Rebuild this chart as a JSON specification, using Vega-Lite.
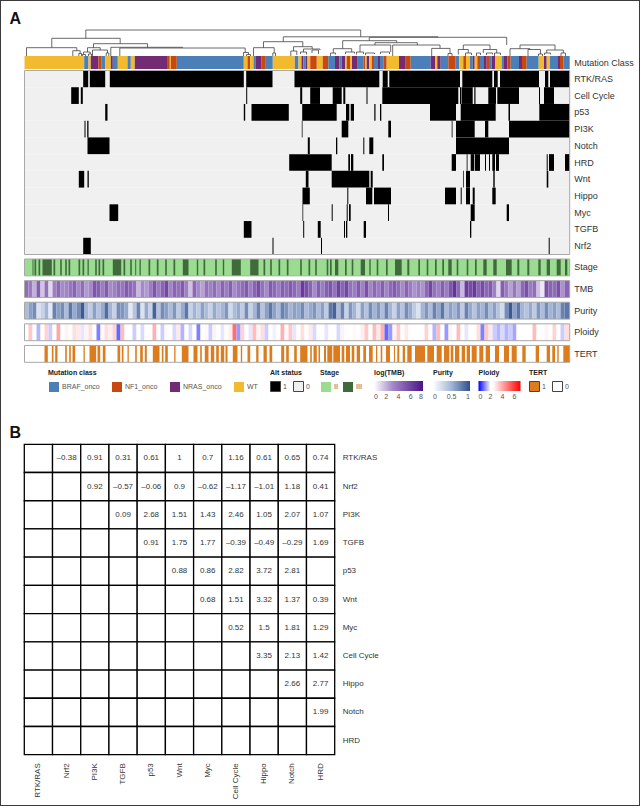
{"$schema":"https://vega.github.io/schema/vega-lite/v6.json","autosize":{"type":"none"},"padding":0,"width":640,"height":806,"background":"white","config":{"view":{"stroke":null},"font":"Liberation Sans","legend":{"titleFont":"Liberation Sans","labelFont":"Liberation Sans","titleFontSize":7,"titleFontWeight":"bold","titleColor":"#222","labelFontSize":7,"labelColor":"#555"}},
"datasets":{
"page":[{"a":0,"b":1,"u":0,"v":1}],
"dend":[{"l":61.3,"r":336.2,"h":26,"a":17.7,"b":19.2},{"l":27.3,"r":95.7,"h":17.7,"a":8.3,"b":12.3},{"l":2,"r":52.3,"h":8.3,"a":0,"b":5.3},{"l":48.3,"r":55.7,"h":5.3,"a":0,"b":2.5},{"l":54.3,"r":57,"h":2.5,"a":0,"b":0},{"l":69,"r":123,"h":12.3,"a":8.3,"b":8.7},{"l":63,"r":75.7,"h":8.3,"a":4,"b":6},{"l":59,"r":65.7,"h":4,"a":1.5,"b":2},{"l":58,"r":61,"h":1.5,"a":0,"b":0},{"l":64,"r":67,"h":2,"a":0,"b":0},{"l":68,"r":83,"h":6,"a":0,"b":3},{"l":81.7,"r":84.3,"h":3,"a":0,"b":0},{"l":86.3,"r":158,"h":8.7,"a":0,"b":8},{"l":95.3,"r":220.7,"h":8,"a":0,"b":3.5},{"l":219,"r":224,"h":3.5,"a":0,"b":1.5},{"l":222,"r":226,"h":1.5,"a":0,"b":0},{"l":258.8,"r":413.5,"h":19.2,"a":14.3,"b":18.7},{"l":344.8,"r":482.2,"h":18.7,"a":15.3,"b":11},{"l":239,"r":278.3,"h":14.3,"a":8.3,"b":9.3},{"l":229,"r":249.7,"h":8.3,"a":0,"b":3},{"l":248.3,"r":251,"h":3,"a":0,"b":0},{"l":269,"r":287.7,"h":9.3,"a":5,"b":7},{"l":266.3,"r":272.3,"h":5,"a":0,"b":1},{"l":279,"r":295.5,"h":7,"a":4,"b":6},{"l":276,"r":282,"h":4,"a":2,"b":1.5},{"l":287.5,"r":294,"h":6,"a":3,"b":2},{"l":318.2,"r":372.2,"h":15.3,"a":7.3,"b":13.3},{"l":308.8,"r":327.2,"h":7.3,"a":3,"b":4},{"l":306,"r":311,"h":3,"a":0,"b":1.5},{"l":321,"r":330,"h":4,"a":2,"b":2.5},{"l":350.5,"r":392.8,"h":13.3,"a":11,"b":11},{"l":335.5,"r":366.2,"h":11,"a":4,"b":4},{"l":332,"r":339,"h":4,"a":1.5,"b":2},{"l":341,"r":350,"h":3,"a":1,"b":2},{"l":356,"r":365,"h":4,"a":2,"b":2},{"l":368.2,"r":415.5,"h":11,"a":0,"b":7.6},{"l":407.2,"r":425.5,"h":7.6,"a":0,"b":2.5},{"l":423.5,"r":427.5,"h":2.5,"a":0,"b":0},{"l":438.8,"r":465.5,"h":11,"a":6.5,"b":6.5},{"l":433.8,"r":443.8,"h":6.5,"a":1.5,"b":3},{"l":441,"r":447,"h":3,"a":0,"b":1},{"l":458.8,"r":472.2,"h":6.5,"a":3,"b":3},{"l":452,"r":456,"h":3,"a":0,"b":1},{"l":462,"r":468,"h":3,"a":1,"b":1.5},{"l":470,"r":476,"h":3,"a":0,"b":1},{"l":495.5,"r":530.5,"h":11,"a":7.3,"b":6},{"l":485.5,"r":505.5,"h":7.3,"a":0,"b":6.5},{"l":503.5,"r":516,"h":6.5,"a":0,"b":2},{"l":514,"r":518,"h":2,"a":0,"b":0},{"l":522.2,"r":538.8,"h":6,"a":3,"b":3},{"l":520,"r":526,"h":3,"a":1,"b":1.5},{"l":536.5,"r":541,"h":3,"a":0,"b":0}],
"mut":[{"a":0,"b":59.7,"c":"WT"},{"a":59.7,"b":64,"c":"BRAF_onco"},{"a":64,"b":66.3,"c":"WT"},{"a":66.3,"b":74,"c":"NRAS_onco"},{"a":74,"b":76.7,"c":"NF1_onco"},{"a":76.7,"b":80.7,"c":"BRAF_onco"},{"a":80.7,"b":86.3,"c":"WT"},{"a":86.3,"b":88.3,"c":"NRAS_onco"},{"a":88.3,"b":93.3,"c":"BRAF_onco"},{"a":93.3,"b":103,"c":"WT"},{"a":103,"b":106.3,"c":"BRAF_onco"},{"a":106.3,"b":110.3,"c":"WT"},{"a":110.3,"b":143.3,"c":"NRAS_onco"},{"a":143.3,"b":145.3,"c":"NF1_onco"},{"a":145.3,"b":146.3,"c":"WT"},{"a":146.3,"b":152.3,"c":"NF1_onco"},{"a":152.3,"b":219.3,"c":"BRAF_onco"},{"a":219.3,"b":223,"c":"WT"},{"a":223,"b":225.7,"c":"NF1_onco"},{"a":225.7,"b":229,"c":"WT"},{"a":229,"b":231,"c":"BRAF_onco"},{"a":231,"b":236.7,"c":"NRAS_onco"},{"a":236.7,"b":241.3,"c":"NF1_onco"},{"a":241.3,"b":248.3,"c":"BRAF_onco"},{"a":248.3,"b":270.3,"c":"WT"},{"a":270.3,"b":274,"c":"BRAF_onco"},{"a":274,"b":277,"c":"WT"},{"a":277,"b":279,"c":"NRAS_onco"},{"a":279,"b":281,"c":"BRAF_onco"},{"a":281,"b":283,"c":"NRAS_onco"},{"a":283,"b":285.7,"c":"WT"},{"a":285.7,"b":292.3,"c":"NF1_onco"},{"a":292.3,"b":298.2,"c":"WT"},{"a":298.2,"b":303.8,"c":"NF1_onco"},{"a":303.8,"b":310.5,"c":"BRAF_onco"},{"a":310.5,"b":314.8,"c":"NRAS_onco"},{"a":314.8,"b":317.2,"c":"BRAF_onco"},{"a":317.2,"b":320.5,"c":"NRAS_onco"},{"a":320.5,"b":322.2,"c":"WT"},{"a":322.2,"b":325.5,"c":"NF1_onco"},{"a":325.5,"b":327.5,"c":"WT"},{"a":327.5,"b":333.2,"c":"NRAS_onco"},{"a":333.2,"b":338.8,"c":"BRAF_onco"},{"a":338.8,"b":340.5,"c":"NF1_onco"},{"a":340.5,"b":342.2,"c":"WT"},{"a":342.2,"b":344.8,"c":"NRAS_onco"},{"a":344.8,"b":347.2,"c":"WT"},{"a":347.2,"b":349.5,"c":"NF1_onco"},{"a":349.5,"b":352.8,"c":"BRAF_onco"},{"a":352.8,"b":355.5,"c":"NRAS_onco"},{"a":355.5,"b":358.8,"c":"BRAF_onco"},{"a":358.8,"b":362.2,"c":"NF1_onco"},{"a":362.2,"b":374.5,"c":"WT"},{"a":374.5,"b":381.2,"c":"NRAS_onco"},{"a":381.2,"b":386.2,"c":"NF1_onco"},{"a":386.2,"b":406.2,"c":"BRAF_onco"},{"a":406.2,"b":410.5,"c":"NRAS_onco"},{"a":410.5,"b":412.8,"c":"WT"},{"a":412.8,"b":416.2,"c":"NRAS_onco"},{"a":416.2,"b":423.8,"c":"BRAF_onco"},{"a":423.8,"b":431.2,"c":"NF1_onco"},{"a":431.2,"b":434.8,"c":"BRAF_onco"},{"a":434.8,"b":438.8,"c":"WT"},{"a":438.8,"b":441.5,"c":"NF1_onco"},{"a":441.5,"b":445.5,"c":"WT"},{"a":445.5,"b":448.2,"c":"BRAF_onco"},{"a":448.2,"b":450.2,"c":"NRAS_onco"},{"a":450.2,"b":452.8,"c":"WT"},{"a":452.8,"b":455.5,"c":"NF1_onco"},{"a":455.5,"b":458.8,"c":"BRAF_onco"},{"a":458.8,"b":462.2,"c":"NRAS_onco"},{"a":462.2,"b":464.5,"c":"NF1_onco"},{"a":464.5,"b":467.2,"c":"BRAF_onco"},{"a":467.2,"b":470.5,"c":"NRAS_onco"},{"a":470.5,"b":477.2,"c":"WT"},{"a":477.2,"b":479.5,"c":"BRAF_onco"},{"a":479.5,"b":482.8,"c":"NRAS_onco"},{"a":482.8,"b":486.2,"c":"NF1_onco"},{"a":486.2,"b":494.5,"c":"BRAF_onco"},{"a":494.5,"b":497.5,"c":"NRAS_onco"},{"a":497.5,"b":502.2,"c":"NF1_onco"},{"a":502.2,"b":514.2,"c":"BRAF_onco"},{"a":514.2,"b":519.5,"c":"WT"},{"a":519.5,"b":522.2,"c":"NRAS_onco"},{"a":522.2,"b":525.5,"c":"WT"},{"a":525.5,"b":532.8,"c":"BRAF_onco"},{"a":532.8,"b":535.5,"c":"NRAS_onco"},{"a":535.5,"b":538.8,"c":"NF1_onco"},{"a":538.8,"b":545.2,"c":"BRAF_onco"}],
"alt":[{"p":"RTK/RAS","a":0,"b":545.2,"s":"0"},{"p":"Cell Cycle","a":0,"b":545.2,"s":"0"},{"p":"p53","a":0,"b":545.2,"s":"0"},{"p":"PI3K","a":0,"b":545.2,"s":"0"},{"p":"Notch","a":0,"b":545.2,"s":"0"},{"p":"HRD","a":0,"b":545.2,"s":"0"},{"p":"Wnt","a":0,"b":545.2,"s":"0"},{"p":"Hippo","a":0,"b":545.2,"s":"0"},{"p":"Myc","a":0,"b":545.2,"s":"0"},{"p":"TGFB","a":0,"b":545.2,"s":"0"},{"p":"Nrf2","a":0,"b":545.2,"s":"0"},
{"p":"RTK/RAS","a":58.7,"b":63.7,"s":"1"},{"p":"RTK/RAS","a":65.3,"b":80.7,"s":"1"},{"p":"RTK/RAS","a":85.3,"b":219.3,"s":"1"},{"p":"RTK/RAS","a":221.7,"b":248,"s":"1"},{"p":"RTK/RAS","a":270,"b":354.8,"s":"1"},{"p":"RTK/RAS","a":358.2,"b":363.2,"s":"1"},{"p":"RTK/RAS","a":364.8,"b":435.5,"s":"1"},{"p":"RTK/RAS","a":437.8,"b":467.8,"s":"1"},{"p":"RTK/RAS","a":469.5,"b":473.2,"s":"1"},{"p":"RTK/RAS","a":475.5,"b":514.5,"s":"1"},{"p":"RTK/RAS","a":520.5,"b":523.8,"s":"1"},{"p":"RTK/RAS","a":525.5,"b":545.2,"s":"1"},
{"p":"Cell Cycle","a":46.7,"b":54.3,"s":"1"},{"p":"Cell Cycle","a":56.3,"b":58.3,"s":"1"},{"p":"Cell Cycle","a":221.7,"b":222.7,"s":"1"},{"p":"Cell Cycle","a":275.7,"b":277.7,"s":"1"},{"p":"Cell Cycle","a":285.7,"b":295.5,"s":"1"},{"p":"Cell Cycle","a":308.2,"b":317.2,"s":"1"},{"p":"Cell Cycle","a":318.8,"b":320.8,"s":"1"},{"p":"Cell Cycle","a":342,"b":343,"s":"1"},{"p":"Cell Cycle","a":357.8,"b":433.8,"s":"1"},{"p":"Cell Cycle","a":435.5,"b":436.8,"s":"1"},{"p":"Cell Cycle","a":437.2,"b":448.2,"s":"1"},{"p":"Cell Cycle","a":449.8,"b":451,"s":"1"},{"p":"Cell Cycle","a":463.8,"b":471.5,"s":"1"},{"p":"Cell Cycle","a":472.8,"b":494.5,"s":"1"},{"p":"Cell Cycle","a":514.5,"b":515.5,"s":"1"},{"p":"Cell Cycle","a":519.5,"b":529.5,"s":"1"},
{"p":"p53","a":80.7,"b":83,"s":"1"},{"p":"p53","a":219.3,"b":220.7,"s":"1"},{"p":"p53","a":227,"b":264.3,"s":"1"},{"p":"p53","a":277.7,"b":312.2,"s":"1"},{"p":"p53","a":321.5,"b":324.8,"s":"1"},{"p":"p53","a":326.2,"b":329.5,"s":"1"},{"p":"p53","a":349.8,"b":351,"s":"1"},{"p":"p53","a":355.5,"b":356.8,"s":"1"},{"p":"p53","a":405.5,"b":431.5,"s":"1"},{"p":"p53","a":436.2,"b":471.2,"s":"1"},{"p":"p53","a":484,"b":485.5,"s":"1"},{"p":"p53","a":514.8,"b":545.2,"s":"1"},
{"p":"PI3K","a":60,"b":61,"s":"1"},{"p":"PI3K","a":62.7,"b":64,"s":"1"},{"p":"PI3K","a":277.3,"b":278,"s":"1"},{"p":"PI3K","a":317.2,"b":323.8,"s":"1"},{"p":"PI3K","a":363.8,"b":366.5,"s":"1"},{"p":"PI3K","a":427.2,"b":428,"s":"1"},{"p":"PI3K","a":431.5,"b":450.2,"s":"1"},{"p":"PI3K","a":460.5,"b":463.8,"s":"1"},{"p":"PI3K","a":484.5,"b":545.2,"s":"1"},
{"p":"Notch","a":63,"b":85,"s":"1"},{"p":"Notch","a":283.3,"b":285.3,"s":"1"},{"p":"Notch","a":311.5,"b":312.8,"s":"1"},{"p":"Notch","a":338.8,"b":339.8,"s":"1"},{"p":"Notch","a":344.8,"b":348.8,"s":"1"},{"p":"Notch","a":431.5,"b":484.5,"s":"1"},
{"p":"HRD","a":264.7,"b":307.2,"s":"1"},{"p":"HRD","a":323.8,"b":325.5,"s":"1"},{"p":"HRD","a":326.5,"b":328.8,"s":"1"},{"p":"HRD","a":357.8,"b":359.5,"s":"1"},{"p":"HRD","a":427.2,"b":431.5,"s":"1"},{"p":"HRD","a":442.2,"b":443,"s":"1"},{"p":"HRD","a":446.2,"b":449.8,"s":"1"},{"p":"HRD","a":450.5,"b":455.5,"s":"1"},{"p":"HRD","a":460.5,"b":461.5,"s":"1"},{"p":"HRD","a":464.5,"b":465.5,"s":"1"},{"p":"HRD","a":467.8,"b":470.5,"s":"1"},{"p":"HRD","a":471.5,"b":474.5,"s":"1"},{"p":"HRD","a":522.2,"b":523.2,"s":"1"},{"p":"HRD","a":524.5,"b":529.5,"s":"1"},{"p":"HRD","a":540.5,"b":545.2,"s":"1"},
{"p":"Wnt","a":54.3,"b":59.7,"s":"1"},{"p":"Wnt","a":63,"b":64.3,"s":"1"},{"p":"Wnt","a":281.3,"b":284,"s":"1"},{"p":"Wnt","a":307.2,"b":344.8,"s":"1"},{"p":"Wnt","a":346.2,"b":348.2,"s":"1"},{"p":"Wnt","a":438.8,"b":439.5,"s":"1"},{"p":"Wnt","a":441.5,"b":445.5,"s":"1"},{"p":"Wnt","a":468.8,"b":470.2,"s":"1"},{"p":"Wnt","a":522.2,"b":523.8,"s":"1"},
{"p":"Hippo","a":278,"b":285.3,"s":"1"},{"p":"Hippo","a":322.8,"b":323.8,"s":"1"},{"p":"Hippo","a":341.5,"b":347.8,"s":"1"},{"p":"Hippo","a":349.5,"b":366.5,"s":"1"},{"p":"Hippo","a":420.5,"b":431.5,"s":"1"},{"p":"Hippo","a":436.2,"b":437.2,"s":"1"},{"p":"Hippo","a":441.5,"b":445.5,"s":"1"},{"p":"Hippo","a":448.2,"b":450.2,"s":"1"},{"p":"Hippo","a":467.8,"b":471.2,"s":"1"},
{"p":"Myc","a":85,"b":93.7,"s":"1"},{"p":"Myc","a":278,"b":278.7,"s":"1"},{"p":"Myc","a":307.2,"b":308.2,"s":"1"},{"p":"Myc","a":322.2,"b":323.2,"s":"1"},{"p":"Myc","a":324.5,"b":326.2,"s":"1"},{"p":"Myc","a":363.5,"b":364.5,"s":"1"},{"p":"Myc","a":446.2,"b":450.2,"s":"1"},{"p":"Myc","a":482.2,"b":484.5,"s":"1"},
{"p":"TGFB","a":219.3,"b":227,"s":"1"},{"p":"TGFB","a":278.7,"b":279.7,"s":"1"},{"p":"TGFB","a":293.3,"b":296.2,"s":"1"},{"p":"TGFB","a":319.5,"b":320.5,"s":"1"},{"p":"TGFB","a":321.5,"b":322.8,"s":"1"},{"p":"TGFB","a":339.2,"b":341.5,"s":"1"},{"p":"TGFB","a":445.5,"b":446.8,"s":"1"},
{"p":"Nrf2","a":58.7,"b":66.3,"s":"1"},{"p":"Nrf2","a":248,"b":249,"s":"1"},{"p":"Nrf2","a":296.5,"b":297.5,"s":"1"},{"p":"Nrf2","a":524.2,"b":525.2,"s":"1"}],
"stage":[{"a":0,"b":545.2,"s":"II"},{"a":8,"b":9,"s":"III"},{"a":10,"b":11.7,"s":"III"},{"a":14,"b":15.7,"s":"III"},{"a":18,"b":27.3,"s":"III"},{"a":29,"b":30.7,"s":"III"},{"a":35.7,"b":37.3,"s":"III"},{"a":40.7,"b":42.3,"s":"III"},{"a":44,"b":45.7,"s":"III"},{"a":54,"b":55.7,"s":"III"},{"a":58,"b":59.7,"s":"III"},{"a":63,"b":64.3,"s":"III"},{"a":70.7,"b":72.3,"s":"III"},{"a":74,"b":75.7,"s":"III"},{"a":78,"b":79.7,"s":"III"},{"a":88.3,"b":96.7,"s":"III"},{"a":99,"b":100.7,"s":"III"},{"a":105.7,"b":107.3,"s":"III"},{"a":110.7,"b":111.7,"s":"III"},{"a":115,"b":116.3,"s":"III"},{"a":124,"b":125.7,"s":"III"},{"a":132.3,"b":134,"s":"III"},{"a":140.7,"b":142.3,"s":"III"},{"a":149,"b":150.7,"s":"III"},{"a":158.3,"b":164,"s":"III"},{"a":172.3,"b":173.7,"s":"III"},{"a":179,"b":180.7,"s":"III"},{"a":190.7,"b":192.3,"s":"III"},{"a":198.3,"b":199.7,"s":"III"},{"a":207.3,"b":216.3,"s":"III"},{"a":225.7,"b":234,"s":"III"},{"a":239,"b":240.7,"s":"III"},{"a":245.7,"b":247.3,"s":"III"},{"a":254,"b":255.7,"s":"III"},{"a":262.3,"b":264,"s":"III"},{"a":275.7,"b":277.3,"s":"III"},{"a":284,"b":285.7,"s":"III"},{"a":290.7,"b":292.3,"s":"III"},{"a":302.2,"b":303.8,"s":"III"},{"a":305.5,"b":307.2,"s":"III"},{"a":310.5,"b":313.8,"s":"III"},{"a":320.5,"b":322.2,"s":"III"},{"a":327.2,"b":328.8,"s":"III"},{"a":336.2,"b":340.5,"s":"III"},{"a":344.8,"b":346.2,"s":"III"},{"a":352.2,"b":353.8,"s":"III"},{"a":361.5,"b":363.2,"s":"III"},{"a":370.5,"b":377.2,"s":"III"},{"a":382.8,"b":384.8,"s":"III"},{"a":393.8,"b":395.5,"s":"III"},{"a":402.2,"b":403.8,"s":"III"},{"a":410.5,"b":412.2,"s":"III"},{"a":417.8,"b":419.5,"s":"III"},{"a":423.8,"b":427.2,"s":"III"},{"a":432.2,"b":433.8,"s":"III"},{"a":442.2,"b":443.8,"s":"III"},{"a":450.5,"b":452.2,"s":"III"},{"a":458.8,"b":462.2,"s":"III"},{"a":468.8,"b":472.2,"s":"III"},{"a":481.5,"b":487.2,"s":"III"},{"a":492.8,"b":494.8,"s":"III"},{"a":502.8,"b":504.8,"s":"III"},{"a":513.8,"b":516.2,"s":"III"},{"a":522.2,"b":525.5,"s":"III"},{"a":532.2,"b":536.2,"s":"III"},{"a":540.5,"b":542.8,"s":"III"}],
"tert":[{"a":0,"b":545.2,"s":"0"},{"a":20,"b":23.3,"s":"1"},{"a":27.3,"b":29,"s":"1"},{"a":30.7,"b":33,"s":"1"},{"a":40.7,"b":42.3,"s":"1"},{"a":44.7,"b":46.3,"s":"1"},{"a":48,"b":50.7,"s":"1"},{"a":59,"b":60.3,"s":"1"},{"a":65,"b":71.7,"s":"1"},{"a":73,"b":75.7,"s":"1"},{"a":78.3,"b":81,"s":"1"},{"a":93,"b":95.7,"s":"1"},{"a":97.3,"b":99,"s":"1"},{"a":103,"b":104.3,"s":"1"},{"a":110.7,"b":112.3,"s":"1"},{"a":115.7,"b":118.3,"s":"1"},{"a":120.3,"b":122.3,"s":"1"},{"a":128.3,"b":135,"s":"1"},{"a":137.3,"b":139,"s":"1"},{"a":140.7,"b":143.3,"s":"1"},{"a":149.7,"b":151,"s":"1"},{"a":157.3,"b":164,"s":"1"},{"a":169,"b":173,"s":"1"},{"a":175.7,"b":177.3,"s":"1"},{"a":180.3,"b":184,"s":"1"},{"a":186.3,"b":189.7,"s":"1"},{"a":191.7,"b":194.3,"s":"1"},{"a":196.3,"b":199.7,"s":"1"},{"a":201,"b":203,"s":"1"},{"a":208.3,"b":213,"s":"1"},{"a":216.3,"b":217.7,"s":"1"},{"a":223,"b":225.7,"s":"1"},{"a":231.7,"b":234,"s":"1"},{"a":239,"b":242.3,"s":"1"},{"a":245,"b":247.7,"s":"1"},{"a":256.7,"b":259.7,"s":"1"},{"a":261.7,"b":264.3,"s":"1"},{"a":269.7,"b":272.3,"s":"1"},{"a":275.7,"b":283,"s":"1"},{"a":285.7,"b":287.3,"s":"1"},{"a":289,"b":292.3,"s":"1"},{"a":294,"b":295.5,"s":"1"},{"a":299.5,"b":301.5,"s":"1"},{"a":302.8,"b":307.8,"s":"1"},{"a":308.8,"b":315.5,"s":"1"},{"a":317.2,"b":319.8,"s":"1"},{"a":321.5,"b":325.5,"s":"1"},{"a":327.2,"b":329.8,"s":"1"},{"a":332.2,"b":335.5,"s":"1"},{"a":338.8,"b":341.5,"s":"1"},{"a":344.5,"b":348.2,"s":"1"},{"a":351.5,"b":352.8,"s":"1"},{"a":356.2,"b":357.8,"s":"1"},{"a":361.5,"b":365.5,"s":"1"},{"a":369.5,"b":370.5,"s":"1"},{"a":372.8,"b":374.8,"s":"1"},{"a":378.2,"b":380.5,"s":"1"},{"a":382.8,"b":387.2,"s":"1"},{"a":390.5,"b":400.5,"s":"1"},{"a":402.8,"b":409.5,"s":"1"},{"a":412.2,"b":417.2,"s":"1"},{"a":419.5,"b":424.8,"s":"1"},{"a":426.2,"b":428.8,"s":"1"},{"a":430.5,"b":434.8,"s":"1"},{"a":437.2,"b":440.5,"s":"1"},{"a":442.2,"b":445.5,"s":"1"},{"a":447.2,"b":452.2,"s":"1"},{"a":454.8,"b":458.8,"s":"1"},{"a":461.2,"b":465.5,"s":"1"},{"a":470.5,"b":474.5,"s":"1"},{"a":479.5,"b":484.5,"s":"1"},{"a":487.2,"b":492.2,"s":"1"},{"a":497.8,"b":501.2,"s":"1"},{"a":511.2,"b":514.5,"s":"1"},{"a":522.2,"b":525.5,"s":"1"},{"a":527.8,"b":530.5,"s":"1"},{"a":532.8,"b":534.2,"s":"1"},{"a":538.8,"b":545.2,"s":"1"}],
"frames":[{"t":"Stage","a":0,"b":545.2},{"t":"TMB","a":0,"b":545.2},{"t":"Purity","a":0,"b":545.2},{"t":"Ploidy","a":0,"b":545.2},{"t":"TERT","a":0,"b":545.2}],
"box":[{"a":0,"b":545.2,"u":0,"v":1}],
"cells":[{"a":0,"b":4,"t":4.2,"p":0.45,"o":2.4},{"a":4,"b":8,"t":3.6,"p":0.6,"o":3.4},{"a":8,"b":12,"t":2,"p":0.7,"o":2.2},{"a":12,"b":16,"t":4.8,"p":0.2,"o":1.4},{"a":16,"b":20,"t":1.5,"p":0.3,"o":2.1},{"a":20,"b":24,"t":4,"p":0.5,"o":3.2},{"a":24,"b":28,"t":1,"p":0.15,"o":1.6},{"a":28,"b":32,"t":3.4,"p":0.75,"o":2.3},{"a":32,"b":36,"t":4.4,"p":0.6,"o":4},{"a":36,"b":40,"t":3,"p":0.7,"o":2.2},{"a":40,"b":44,"t":3.2,"p":0.45,"o":2.6},{"a":44,"b":48,"t":3.8,"p":0.8,"o":2.1},{"a":48,"b":52,"t":4.6,"p":0.55,"o":3},{"a":52,"b":56,"t":3,"p":0.7,"o":2.8},{"a":56,"b":60,"t":4.2,"p":0.95,"o":1.8},{"a":60,"b":64,"t":2.6,"p":0.5,"o":2.6},{"a":64,"b":68,"t":3,"p":0.35,"o":3},{"a":68,"b":72,"t":5.2,"p":0.6,"o":2.2},{"a":72,"b":76,"t":4.8,"p":0.4,"o":1},{"a":76,"b":80,"t":3.6,"p":0.55,"o":2.5},{"a":80,"b":84,"t":5,"p":0.85,"o":3},{"a":84,"b":88,"t":3,"p":0.5,"o":2.7},{"a":88,"b":92,"t":3.4,"p":0.3,"o":3.2},{"a":92,"b":96,"t":4.2,"p":0.7,"o":0.8},{"a":96,"b":100,"t":3.8,"p":0.65,"o":3.6},{"a":100,"b":104,"t":5,"p":0.55,"o":2.1},{"a":104,"b":108,"t":4.4,"p":0.15,"o":2},{"a":108,"b":112,"t":4,"p":0.4,"o":1.6},{"a":112,"b":116,"t":1.8,"p":0.75,"o":2.2},{"a":116,"b":120,"t":3,"p":0.2,"o":1.7},{"a":120,"b":124,"t":2.6,"p":0.55,"o":2.1},{"a":124,"b":128,"t":3.6,"p":0.3,"o":2.4},{"a":128,"b":132,"t":5.2,"p":0.9,"o":3.8},{"a":132,"b":136,"t":3.6,"p":0.4,"o":2.2},{"a":136,"b":140,"t":4.6,"p":0.7,"o":1.6},{"a":140,"b":144,"t":5.8,"p":0.6,"o":2.5},{"a":144,"b":148,"t":3.2,"p":0.45,"o":2.2},{"a":148,"b":152,"t":4.6,"p":0.65,"o":1.7},{"a":152,"b":156,"t":4,"p":0.35,"o":2.8},{"a":156,"b":160,"t":5,"p":0.55,"o":1.4},{"a":160,"b":164,"t":3.4,"p":0.8,"o":2.2},{"a":164,"b":168,"t":1.6,"p":0.3,"o":1.7},{"a":168,"b":172,"t":4.4,"p":0.5,"o":2.1},{"a":172,"b":176,"t":3,"p":0.35,"o":1},{"a":176,"b":180,"t":2.4,"p":0.6,"o":2.3},{"a":180,"b":184,"t":4,"p":0.45,"o":2.5},{"a":184,"b":188,"t":3.4,"p":0.3,"o":1.6},{"a":188,"b":192,"t":4.2,"p":0.55,"o":2.6},{"a":192,"b":196,"t":3,"p":0.4,"o":2.1},{"a":196,"b":200,"t":4.6,"p":0.5,"o":1.8},{"a":200,"b":204,"t":3.6,"p":0.65,"o":2.2},{"a":204,"b":208,"t":4.8,"p":0.25,"o":2.7},{"a":208,"b":212,"t":3,"p":0.45,"o":5},{"a":212,"b":216,"t":3.8,"p":0.55,"o":1.2},{"a":216,"b":220,"t":4.2,"p":0.35,"o":3.2},{"a":220,"b":224,"t":5,"p":0.7,"o":2.4},{"a":224,"b":228,"t":3.4,"p":0.3,"o":1.8},{"a":228,"b":232,"t":4.6,"p":0.5,"o":3.6},{"a":232,"b":236,"t":5.6,"p":0.75,"o":2.6},{"a":236,"b":240,"t":4,"p":0.4,"o":3},{"a":240,"b":244,"t":3,"p":0.6,"o":1.6},{"a":244,"b":248,"t":5,"p":0.8,"o":2.2},{"a":248,"b":252,"t":4.4,"p":0.6,"o":1.9},{"a":252,"b":256,"t":3.6,"p":0.45,"o":2.2},{"a":256,"b":260,"t":4.8,"p":0.75,"o":3.8},{"a":260,"b":264,"t":4.2,"p":0.65,"o":2.5},{"a":264,"b":268,"t":5,"p":0.5,"o":3.4},{"a":268,"b":272,"t":4.4,"p":0.6,"o":1.8},{"a":272,"b":276,"t":3.6,"p":0.55,"o":2.2},{"a":276,"b":280,"t":6.4,"p":0.7,"o":3},{"a":280,"b":284,"t":5.4,"p":0.45,"o":2.1},{"a":284,"b":288,"t":4.6,"p":0.55,"o":2.8},{"a":288,"b":292,"t":3,"p":0.65,"o":1.7},{"a":292,"b":296,"t":4.8,"p":0.45,"o":2.3},{"a":296,"b":300,"t":3.6,"p":0.6,"o":2},{"a":300,"b":304,"t":4.8,"p":0.35,"o":1.8},{"a":304,"b":308,"t":5.2,"p":0.8,"o":2.4},{"a":308,"b":312,"t":4,"p":0.9,"o":2.2},{"a":312,"b":316,"t":6,"p":0.45,"o":1.7},{"a":316,"b":320,"t":4.6,"p":0.75,"o":2.6},{"a":320,"b":324,"t":5.8,"p":0.3,"o":2.2},{"a":324,"b":328,"t":4,"p":0.65,"o":2},{"a":328,"b":332,"t":3.6,"p":0.5,"o":2.5},{"a":332,"b":336,"t":5,"p":0.25,"o":2.2},{"a":336,"b":340,"t":3.4,"p":0.6,"o":2.7},{"a":340,"b":344,"t":5.4,"p":0.4,"o":3.4},{"a":344,"b":348,"t":3.2,"p":0.7,"o":2},{"a":348,"b":352,"t":4.4,"p":0.5,"o":3.6},{"a":352,"b":356,"t":3.6,"p":0.65,"o":2.8},{"a":356,"b":360,"t":4.8,"p":0.45,"o":3.8},{"a":360,"b":364,"t":3.2,"p":0.75,"o":0.8},{"a":364,"b":368,"t":4.4,"p":0.5,"o":1.2},{"a":368,"b":372,"t":5,"p":0.3,"o":2.6},{"a":372,"b":376,"t":4.2,"p":0.6,"o":3.4},{"a":376,"b":380,"t":3,"p":0.4,"o":2.2},{"a":380,"b":384,"t":4.6,"p":0.7,"o":2.8},{"a":384,"b":388,"t":3.6,"p":0.55,"o":2.2},{"a":388,"b":392,"t":2.8,"p":0.35,"o":2},{"a":392,"b":396,"t":3.4,"p":0.2,"o":2.4},{"a":396,"b":400,"t":2.8,"p":0.5,"o":2.2},{"a":400,"b":404,"t":4.4,"p":0.65,"o":3.2},{"a":404,"b":408,"t":5.8,"p":0.45,"o":2},{"a":408,"b":412,"t":4,"p":0.75,"o":1.4},{"a":412,"b":416,"t":3.4,"p":0.55,"o":3.6},{"a":416,"b":420,"t":4.8,"p":0.8,"o":2.2},{"a":420,"b":424,"t":3.6,"p":0.45,"o":1.2},{"a":424,"b":428,"t":5.2,"p":0.6,"o":2.6},{"a":428,"b":432,"t":6.6,"p":0.5,"o":2.2},{"a":432,"b":436,"t":4.4,"p":0.65,"o":3.6},{"a":436,"b":440,"t":1.8,"p":0.35,"o":2.1},{"a":440,"b":444,"t":6.2,"p":0.75,"o":1.8},{"a":444,"b":448,"t":5.6,"p":0.55,"o":2.4},{"a":448,"b":452,"t":6.4,"p":0.4,"o":2.2},{"a":452,"b":456,"t":4.6,"p":0.6,"o":3},{"a":456,"b":460,"t":5.6,"p":0.5,"o":1},{"a":460,"b":464,"t":4.4,"p":0.7,"o":3.4},{"a":464,"b":468,"t":5,"p":0.45,"o":2.8},{"a":468,"b":472,"t":3.4,"p":0.6,"o":1.6},{"a":472,"b":476,"t":1,"p":0.4,"o":1.4},{"a":476,"b":480,"t":4.8,"p":0.25,"o":1.7},{"a":480,"b":484,"t":3.6,"p":0.7,"o":1.4},{"a":484,"b":488,"t":2.4,"p":0.95,"o":1.6},{"a":488,"b":492,"t":3.8,"p":0.6,"o":1.3},{"a":492,"b":496,"t":2.4,"p":0.8,"o":2.1},{"a":496,"b":500,"t":4.4,"p":0.5,"o":2.2},{"a":500,"b":504,"t":5.4,"p":0.4,"o":2.4},{"a":504,"b":508,"t":3.6,"p":0.55,"o":2},{"a":508,"b":512,"t":4.2,"p":0.35,"o":3.6},{"a":512,"b":516,"t":1.6,"p":0.65,"o":2.2},{"a":516,"b":520,"t":0.6,"p":0.45,"o":2.1},{"a":520,"b":524,"t":5.4,"p":0.7,"o":2.6},{"a":524,"b":528,"t":4.6,"p":0.5,"o":2},{"a":528,"b":532,"t":4.2,"p":0.6,"o":3.2},{"a":532,"b":536,"t":5.4,"p":0.45,"o":2.2},{"a":536,"b":540,"t":2.8,"p":0.75,"o":1.6},{"a":540,"b":545.2,"t":4.6,"p":0.8,"o":3}],
"matrix":[
{"r":"RTK/RAS","c":"RTK/RAS","v":""},{"r":"RTK/RAS","c":"Nrf2","v":"–0.38"},{"r":"RTK/RAS","c":"PI3K","v":"0.91"},{"r":"RTK/RAS","c":"TGFB","v":"0.31"},{"r":"RTK/RAS","c":"p53","v":"0.61"},{"r":"RTK/RAS","c":"Wnt","v":"1"},{"r":"RTK/RAS","c":"Myc","v":"0.7"},{"r":"RTK/RAS","c":"Cell Cycle","v":"1.16"},{"r":"RTK/RAS","c":"Hippo","v":"0.61"},{"r":"RTK/RAS","c":"Notch","v":"0.65"},{"r":"RTK/RAS","c":"HRD","v":"0.74"},
{"r":"Nrf2","c":"RTK/RAS","v":""},{"r":"Nrf2","c":"Nrf2","v":""},{"r":"Nrf2","c":"PI3K","v":"0.92"},{"r":"Nrf2","c":"TGFB","v":"–0.57"},{"r":"Nrf2","c":"p53","v":"–0.06"},{"r":"Nrf2","c":"Wnt","v":"0.9"},{"r":"Nrf2","c":"Myc","v":"–0.62"},{"r":"Nrf2","c":"Cell Cycle","v":"–1.17"},{"r":"Nrf2","c":"Hippo","v":"–1.01"},{"r":"Nrf2","c":"Notch","v":"1.18"},{"r":"Nrf2","c":"HRD","v":"0.41"},
{"r":"PI3K","c":"RTK/RAS","v":""},{"r":"PI3K","c":"Nrf2","v":""},{"r":"PI3K","c":"PI3K","v":""},{"r":"PI3K","c":"TGFB","v":"0.09"},{"r":"PI3K","c":"p53","v":"2.68"},{"r":"PI3K","c":"Wnt","v":"1.51"},{"r":"PI3K","c":"Myc","v":"1.43"},{"r":"PI3K","c":"Cell Cycle","v":"2.46"},{"r":"PI3K","c":"Hippo","v":"1.05"},{"r":"PI3K","c":"Notch","v":"2.07"},{"r":"PI3K","c":"HRD","v":"1.07"},
{"r":"TGFB","c":"RTK/RAS","v":""},{"r":"TGFB","c":"Nrf2","v":""},{"r":"TGFB","c":"PI3K","v":""},{"r":"TGFB","c":"TGFB","v":""},{"r":"TGFB","c":"p53","v":"0.91"},{"r":"TGFB","c":"Wnt","v":"1.75"},{"r":"TGFB","c":"Myc","v":"1.77"},{"r":"TGFB","c":"Cell Cycle","v":"–0.39"},{"r":"TGFB","c":"Hippo","v":"–0.49"},{"r":"TGFB","c":"Notch","v":"–0.29"},{"r":"TGFB","c":"HRD","v":"1.69"},
{"r":"p53","c":"RTK/RAS","v":""},{"r":"p53","c":"Nrf2","v":""},{"r":"p53","c":"PI3K","v":""},{"r":"p53","c":"TGFB","v":""},{"r":"p53","c":"p53","v":""},{"r":"p53","c":"Wnt","v":"0.88"},{"r":"p53","c":"Myc","v":"0.86"},{"r":"p53","c":"Cell Cycle","v":"2.82"},{"r":"p53","c":"Hippo","v":"3.72"},{"r":"p53","c":"Notch","v":"2.81"},{"r":"p53","c":"HRD","v":""},
{"r":"Wnt","c":"RTK/RAS","v":""},{"r":"Wnt","c":"Nrf2","v":""},{"r":"Wnt","c":"PI3K","v":""},{"r":"Wnt","c":"TGFB","v":""},{"r":"Wnt","c":"p53","v":""},{"r":"Wnt","c":"Wnt","v":""},{"r":"Wnt","c":"Myc","v":"0.68"},{"r":"Wnt","c":"Cell Cycle","v":"1.51"},{"r":"Wnt","c":"Hippo","v":"3.32"},{"r":"Wnt","c":"Notch","v":"1.37"},{"r":"Wnt","c":"HRD","v":"0.39"},
{"r":"Myc","c":"RTK/RAS","v":""},{"r":"Myc","c":"Nrf2","v":""},{"r":"Myc","c":"PI3K","v":""},{"r":"Myc","c":"TGFB","v":""},{"r":"Myc","c":"p53","v":""},{"r":"Myc","c":"Wnt","v":""},{"r":"Myc","c":"Myc","v":""},{"r":"Myc","c":"Cell Cycle","v":"0.52"},{"r":"Myc","c":"Hippo","v":"1.5"},{"r":"Myc","c":"Notch","v":"1.81"},{"r":"Myc","c":"HRD","v":"1.29"},
{"r":"Cell Cycle","c":"RTK/RAS","v":""},{"r":"Cell Cycle","c":"Nrf2","v":""},{"r":"Cell Cycle","c":"PI3K","v":""},{"r":"Cell Cycle","c":"TGFB","v":""},{"r":"Cell Cycle","c":"p53","v":""},{"r":"Cell Cycle","c":"Wnt","v":""},{"r":"Cell Cycle","c":"Myc","v":""},{"r":"Cell Cycle","c":"Cell Cycle","v":""},{"r":"Cell Cycle","c":"Hippo","v":"3.35"},{"r":"Cell Cycle","c":"Notch","v":"2.13"},{"r":"Cell Cycle","c":"HRD","v":"1.42"},
{"r":"Hippo","c":"RTK/RAS","v":""},{"r":"Hippo","c":"Nrf2","v":""},{"r":"Hippo","c":"PI3K","v":""},{"r":"Hippo","c":"TGFB","v":""},{"r":"Hippo","c":"p53","v":""},{"r":"Hippo","c":"Wnt","v":""},{"r":"Hippo","c":"Myc","v":""},{"r":"Hippo","c":"Cell Cycle","v":""},{"r":"Hippo","c":"Hippo","v":""},{"r":"Hippo","c":"Notch","v":"2.66"},{"r":"Hippo","c":"HRD","v":"2.77"},
{"r":"Notch","c":"RTK/RAS","v":""},{"r":"Notch","c":"Nrf2","v":""},{"r":"Notch","c":"PI3K","v":""},{"r":"Notch","c":"TGFB","v":""},{"r":"Notch","c":"p53","v":""},{"r":"Notch","c":"Wnt","v":""},{"r":"Notch","c":"Myc","v":""},{"r":"Notch","c":"Cell Cycle","v":""},{"r":"Notch","c":"Hippo","v":""},{"r":"Notch","c":"Notch","v":""},{"r":"Notch","c":"HRD","v":"1.99"},
{"r":"HRD","c":"RTK/RAS","v":""},{"r":"HRD","c":"Nrf2","v":""},{"r":"HRD","c":"PI3K","v":""},{"r":"HRD","c":"TGFB","v":""},{"r":"HRD","c":"p53","v":""},{"r":"HRD","c":"Wnt","v":""},{"r":"HRD","c":"Myc","v":""},{"r":"HRD","c":"Cell Cycle","v":""},{"r":"HRD","c":"Hippo","v":""},{"r":"HRD","c":"Notch","v":""},{"r":"HRD","c":"HRD","v":""}]
},
"layer":[
{"data":{"name":"page"},"mark":{"type":"rect","fill":"transparent","stroke":"#3a3a3a","strokeWidth":2},"encoding":{"x":{"field":"a","type":"quantitative","axis":null,"scale":{"domain":[0,1],"range":[0,640],"nice":false,"zero":false}},"x2":{"field":"b"},"y":{"field":"u","type":"quantitative","axis":null,"scale":{"domain":[0,1],"range":[806,0],"nice":false,"zero":false}},"y2":{"field":"v"}}},
{"data":{"name":"dend"},"mark":{"type":"rule","color":"#444","strokeWidth":0.8},"encoding":{"x":{"field":"l","type":"quantitative","axis":null,"scale":{"domain":[0,545.2],"range":[24.5,569.7],"nice":false,"zero":false}},"x2":{"field":"r"},"y":{"field":"h","type":"quantitative","axis":null,"scale":{"domain":[0,26],"range":[56,30],"nice":false,"zero":false}}}},
{"data":{"name":"dend"},"mark":{"type":"rule","color":"#444","strokeWidth":0.8},"encoding":{"x":{"field":"l","type":"quantitative","axis":null,"scale":{"domain":[0,545.2],"range":[24.5,569.7],"nice":false,"zero":false}},"y":{"field":"h","type":"quantitative","axis":null,"scale":{"domain":[0,26],"range":[56,30],"nice":false,"zero":false}},"y2":{"field":"a"}}},
{"data":{"name":"dend"},"mark":{"type":"rule","color":"#444","strokeWidth":0.8},"encoding":{"x":{"field":"r","type":"quantitative","axis":null,"scale":{"domain":[0,545.2],"range":[24.5,569.7],"nice":false,"zero":false}},"y":{"field":"h","type":"quantitative","axis":null,"scale":{"domain":[0,26],"range":[56,30],"nice":false,"zero":false}},"y2":{"field":"b"}}},
{"data":{"name":"mut"},"mark":{"type":"rect"},"encoding":{"x":{"field":"a","type":"quantitative","axis":null,"scale":{"domain":[0,545.2],"range":[24.5,569.7],"nice":false,"zero":false}},"x2":{"field":"b"},"y":{"datum":"Mutation Class","type":"nominal","scale":{"type":"band","domain":["Mutation Class"],"range":[56,69],"paddingInner":0,"paddingOuter":0},"axis":{"orient":"right","offset":-70,"domain":false,"ticks":false,"grid":false,"labelPadding":3.7,"labelFont":"Liberation Sans","labelFontSize":9,"labelColor":"#333","labelLimit":0,"title":"A","titleFont":"Liberation Sans","titleFontSize":16,"titleFontWeight":"bold","titleColor":"#111","titleAngle":0,"titleAlign":"left","titleBaseline":"alphabetic","titleX":-561,"titleY":23}},"color":{"field":"c","type":"nominal","scale":{"domain":["BRAF_onco","NF1_onco","NRAS_onco","WT"],"range":["#4a7fb8","#c8490f","#732b73","#f2bb2f"]},"legend":{"orient":"none","legendX":48,"legendY":369,"title":"Mutation class","direction":"horizontal","columns":4,"gridAlign":"none","columnPadding":11,"symbolType":"square","symbolSize":100,"labelOffset":2,"titlePadding":5}}}},
{"data":{"name":"alt"},"mark":{"type":"rect"},"encoding":{"x":{"field":"a","type":"quantitative","axis":null,"scale":{"domain":[0,545.2],"range":[24.5,569.7],"nice":false,"zero":false}},"x2":{"field":"b"},"y":{"field":"p","type":"nominal","scale":{"type":"band","domain":["RTK/RAS","Cell Cycle","p53","PI3K","Notch","HRD","Wnt","Hippo","Myc","TGFB","Nrf2"],"range":[70.5,254.5],"paddingInner":0,"paddingOuter":0},"axis":{"orient":"right","offset":-70,"domain":false,"ticks":false,"grid":false,"labelPadding":3.7,"labelFont":"Liberation Sans","labelFontSize":9,"labelColor":"#333","labelLimit":0,"title":null}},"color":{"field":"s","type":"nominal","scale":{"domain":["1","0"],"range":["#000000","#f0f0f0"]},"legend":{"orient":"none","legendX":270,"legendY":369,"title":"Alt status","direction":"horizontal","columns":2,"gridAlign":"none","columnPadding":4,"symbolType":"square","symbolSize":100,"symbolStrokeColor":"#444","symbolStrokeWidth":1,"labelOffset":2,"titlePadding":5}}}},
{"data":{"name":"box"},"mark":{"type":"rect","fill":"transparent","stroke":"#a8a8a8","strokeWidth":1},"encoding":{"x":{"field":"a","type":"quantitative","axis":null,"scale":{"domain":[0,545.2],"range":[24.5,569.7],"nice":false,"zero":false}},"x2":{"field":"b"},"y":{"field":"u","type":"quantitative","axis":null,"scale":{"domain":[0,1],"range":[254.5,70.5],"nice":false,"zero":false}},"y2":{"field":"v"}}},
{"data":{"name":"stage"},"mark":{"type":"rect"},"encoding":{"x":{"field":"a","type":"quantitative","axis":null,"scale":{"domain":[0,545.2],"range":[24.5,569.7],"nice":false,"zero":false}},"x2":{"field":"b"},"y":{"datum":"Stage","type":"nominal","axis":null,"scale":{"type":"band","domain":["Stage","TMB","Purity","Ploidy","TERT"],"range":[259,362.3],"paddingInner":0.22,"paddingOuter":0}},"color":{"field":"s","type":"nominal","scale":{"domain":["II","III"],"range":["#9bdc92","#3f6b3a"]},"legend":{"orient":"none","legendX":320,"legendY":369,"title":"Stage","direction":"horizontal","columns":2,"gridAlign":"none","columnPadding":4,"symbolType":"square","symbolSize":100,"labelOffset":2,"titlePadding":5}}}},
{"data":{"name":"cells"},"mark":{"type":"rect"},"encoding":{"x":{"field":"a","type":"quantitative","axis":null,"scale":{"domain":[0,545.2],"range":[24.5,569.7],"nice":false,"zero":false}},"x2":{"field":"b"},"y":{"datum":"TMB","type":"nominal","axis":null,"scale":{"type":"band","domain":["Stage","TMB","Purity","Ploidy","TERT"],"range":[259,362.3],"paddingInner":0.22,"paddingOuter":0}},"color":{"field":"t","type":"quantitative","scale":{"domain":[0,3,8],"range":["#ffffff","#a58ac8","#4a1486"],"nice":false,"interpolate":"rgb"},"legend":{"orient":"none","legendX":374,"legendY":369,"title":"log(TMB)","direction":"horizontal","type":"gradient","gradientLength":49,"gradientThickness":10,"values":[0,2,4,6,8],"titlePadding":5,"labelOverlap":false}}}},
{"data":{"name":"cells"},"mark":{"type":"rect"},"encoding":{"x":{"field":"a","type":"quantitative","axis":null,"scale":{"domain":[0,545.2],"range":[24.5,569.7],"nice":false,"zero":false}},"x2":{"field":"b"},"y":{"datum":"Purity","type":"nominal","axis":null,"scale":{"type":"band","domain":["Stage","TMB","Purity","Ploidy","TERT"],"range":[259,362.3],"paddingInner":0.22,"paddingOuter":0}},"color":{"field":"p","type":"quantitative","scale":{"domain":[0,0.5,1],"range":["#ffffff","#a3b4d6","#2f4f8a"],"nice":false,"interpolate":"rgb"},"legend":{"orient":"none","legendX":433,"legendY":369,"title":"Purity","direction":"horizontal","type":"gradient","gradientLength":37,"gradientThickness":10,"values":[0,0.5,1],"format":"~g","titlePadding":5,"labelOverlap":false}}}},
{"data":{"name":"cells"},"mark":{"type":"rect"},"encoding":{"x":{"field":"a","type":"quantitative","axis":null,"scale":{"domain":[0,545.2],"range":[24.5,569.7],"nice":false,"zero":false}},"x2":{"field":"b"},"y":{"datum":"Ploidy","type":"nominal","axis":null,"scale":{"type":"band","domain":["Stage","TMB","Purity","Ploidy","TERT"],"range":[259,362.3],"paddingInner":0.22,"paddingOuter":0}},"color":{"field":"o","type":"quantitative","scale":{"domain":[0,2,2.4,7],"range":["#0000ff","#ffffff","#ffffff","#ff0000"],"nice":false,"interpolate":"rgb"},"legend":{"orient":"none","legendX":478.5,"legendY":369,"title":"Ploidy","direction":"horizontal","type":"gradient","gradientLength":42,"gradientThickness":10,"values":[0,2,4,6],"titlePadding":5,"labelOverlap":false}}}},
{"data":{"name":"tert"},"mark":{"type":"rect"},"encoding":{"x":{"field":"a","type":"quantitative","axis":null,"scale":{"domain":[0,545.2],"range":[24.5,569.7],"nice":false,"zero":false}},"x2":{"field":"b"},"y":{"datum":"TERT","type":"nominal","axis":null,"scale":{"type":"band","domain":["Stage","TMB","Purity","Ploidy","TERT"],"range":[259,362.3],"paddingInner":0.22,"paddingOuter":0}},"color":{"field":"s","type":"nominal","scale":{"domain":["1","0"],"range":["#db7c1f","#ffffff"]},"legend":{"orient":"none","legendX":529,"legendY":369,"title":"TERT","direction":"horizontal","columns":2,"gridAlign":"none","columnPadding":4,"symbolType":"square","symbolSize":100,"symbolStrokeColor":"#444","symbolStrokeWidth":1,"labelOffset":2,"titlePadding":5}}}},
{"data":{"name":"frames"},"mark":{"type":"rect","fill":"transparent","stroke":"#a8a8a8","strokeWidth":1},"encoding":{"x":{"field":"a","type":"quantitative","axis":null,"scale":{"domain":[0,545.2],"range":[24.5,569.7],"nice":false,"zero":false}},"x2":{"field":"b"},"y":{"field":"t","type":"nominal","scale":{"type":"band","domain":["Stage","TMB","Purity","Ploidy","TERT"],"range":[259,362.3],"paddingInner":0.22,"paddingOuter":0},"axis":{"orient":"right","offset":-70,"domain":false,"ticks":false,"grid":false,"labelPadding":3.7,"labelFont":"Liberation Sans","labelFontSize":9,"labelColor":"#333","labelLimit":0,"title":null}}}},
{"data":{"name":"matrix"},"mark":{"type":"rect","fill":"white","stroke":"#000","strokeWidth":1.3},"encoding":{"x":{"field":"c","type":"nominal","sort":null,"scale":{"type":"band","domain":["RTK/RAS","Nrf2","PI3K","TGFB","p53","Wnt","Myc","Cell Cycle","Hippo","Notch","HRD"],"range":[24.3,334.7],"paddingInner":0,"paddingOuter":0},"axis":{"orient":"bottom","offset":-51.3,"domain":false,"ticks":false,"grid":false,"labelAngle":270,"labelAlign":"right","labelBaseline":"middle","labelPadding":8,"labelFont":"Liberation Sans","labelFontSize":8,"labelColor":"#333","labelLimit":0,"title":null}},"y":{"field":"r","type":"nominal","sort":null,"scale":{"type":"band","domain":["RTK/RAS","Nrf2","PI3K","TGFB","p53","Wnt","Myc","Cell Cycle","Hippo","Notch","HRD"],"range":[444.3,754.7],"paddingInner":0,"paddingOuter":0},"axis":{"orient":"right","offset":-305.3,"domain":false,"ticks":false,"grid":false,"labelPadding":7.5,"labelFont":"Liberation Sans","labelFontSize":8,"labelColor":"#333","labelLimit":0,"title":"B","titleFont":"Liberation Sans","titleFontSize":16,"titleFontWeight":"bold","titleColor":"#111","titleAngle":0,"titleAlign":"left","titleBaseline":"alphabetic","titleX":-325.7,"titleY":437.3}}}},
{"data":{"name":"matrix"},"mark":{"type":"text","font":"Liberation Sans","fontSize":8,"color":"#333"},"encoding":{"text":{"field":"v","type":"nominal"},"x":{"field":"c","type":"nominal","axis":null,"scale":{"type":"band","domain":["RTK/RAS","Nrf2","PI3K","TGFB","p53","Wnt","Myc","Cell Cycle","Hippo","Notch","HRD"],"range":[24.3,334.7],"paddingInner":0,"paddingOuter":0}},"y":{"field":"r","type":"nominal","axis":null,"scale":{"type":"band","domain":["RTK/RAS","Nrf2","PI3K","TGFB","p53","Wnt","Myc","Cell Cycle","Hippo","Notch","HRD"],"range":[444.3,754.7],"paddingInner":0,"paddingOuter":0}}}}
],
"resolve":{"scale":{"x":"independent","y":"independent","color":"independent"},"axis":{"x":"independent","y":"independent"},"legend":{"color":"independent"}}}
